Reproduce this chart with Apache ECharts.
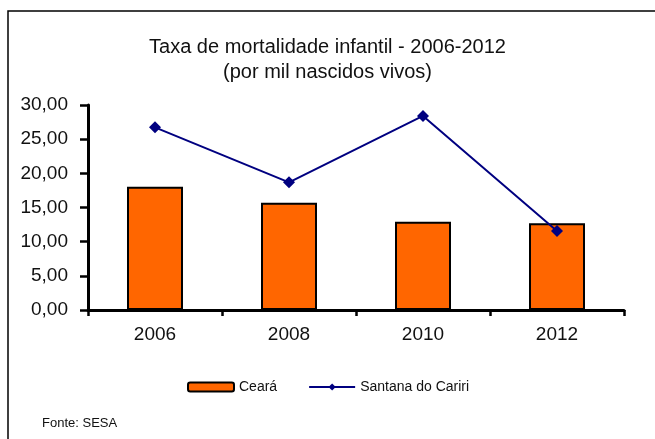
<!DOCTYPE html>
<html>
<head>
<meta charset="utf-8">
<script src="https://cdn.jsdelivr.net/npm/echarts@6/dist/echarts.min.js"></script>
<style>
    html, body { margin: 0; padding: 0; background: #fff; }
    #chartDom { width: 655px; height: 439px; }
</style>
</head>
<body>
<div id="chartDom"></div>
<script>
    // dados
    let anos = ['2006', '2008', '2010', '2012'];
    let ceara = [18.05, 15.7, 12.93, 12.69];
    let santana = [26.73, 18.68, 28.4, 11.56];
    let yTicks = ['0,00', '5,00', '10,00', '15,00', '20,00', '25,00', '30,00'];

    let font = 'Liberation Sans, Arial, sans-serif';
    let chart = echarts.init(document.getElementById('chartDom'));

    let option = {
        animation: false,
        textStyle: { fontFamily: font },
        title: {
            text: 'Taxa de mortalidade infantil - 2006-2012\n(por mil nascidos vivos)',
            left: 'center',
            top: 30,
            textStyle: {
                color: '#111',
                fontWeight: 'normal',
                fontSize: 20,
                lineHeight: 25,
                fontFamily: font
            }
        },
        graphic: [
            {
                type: 'rect',
                shape: { x: 8, y: 11, width: 700, height: 500 },
                style: { fill: 'none', stroke: '#000', lineWidth: 1.5 },
                silent: true
            },
            {
                type: 'text',
                left: 42,
                top: 417,
                style: { text: 'Fonte: SESA', fill: '#111', font: '13px ' + font }
            }
        ],
        grid: {
            left: 88,
            right: 31,
            top: 105,
            bottom: 129
        },
        legend: {
            left: 182,
            top: 375,
            itemWidth: 46,
            itemHeight: 9,
            itemGap: 31,
            textStyle: { fontSize: 14, color: '#111', fontFamily: font },
            data: ['Ceará', 'Santana do Cariri']
        },
        xAxis: {
            type: 'category',
            data: anos,
            axisLine: { lineStyle: { color: '#000', width: 3 } },
            axisTick: { show: true, length: 6, lineStyle: { color: '#000', width: 2.5 } },
            axisLabel: { fontSize: 19, color: '#111', margin: 15, fontFamily: font },
            splitLine: { show: false }
        },
        yAxis: {
            type: 'value',
            min: 0,
            max: 30,
            interval: 5,
            axisLine: { show: true, lineStyle: { color: '#000', width: 3 } },
            axisTick: { show: true, length: 8, lineStyle: { color: '#000', width: 2.5 } },
            axisLabel: {
                fontSize: 19,
                color: '#111',
                margin: 20,
                fontFamily: font,
                formatter: function (v) { return yTicks[Math.round(v / 5)]; }
            },
            splitLine: { show: false }
        },
        series: [
            {
                name: 'Ceará',
                type: 'bar',
                data: ceara,
                barWidth: 56,
                itemStyle: { color: '#ff6600', borderColor: '#000', borderWidth: 2 }
            },
            {
                name: 'Santana do Cariri',
                type: 'line',
                data: santana,
                symbol: 'diamond',
                symbolSize: 12,
                lineStyle: { color: '#000080', width: 2 },
                itemStyle: { color: '#000080' }
            }
        ]
    };

    chart.setOption(option);
</script>
</body>
</html>
